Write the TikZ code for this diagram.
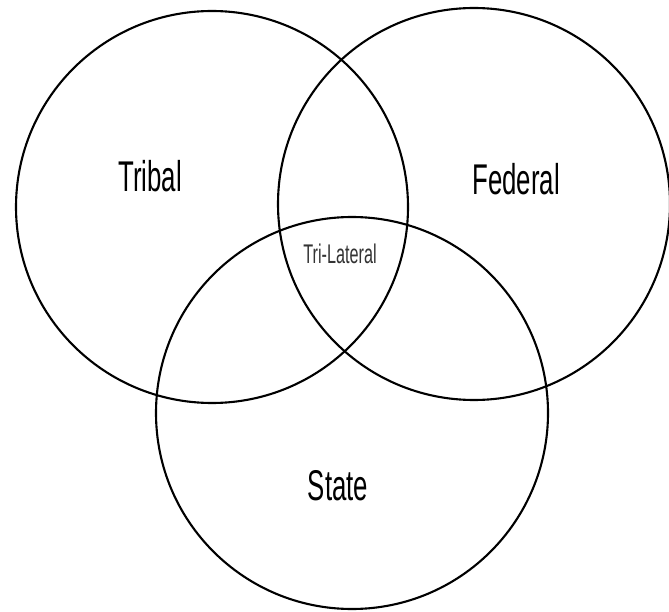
\documentclass[tikz,border=0pt]{standalone}
\usepackage{fontspec}
\newfontfamily\vennfont[FakeStretch=0.6]{Liberation Sans}
\usetikzlibrary{positioning}

\begin{document}
\begin{tikzpicture}[
    x=1pt, y=-1pt,
    set/.style={draw, circle, line width=2.1pt, inner sep=0pt, minimum size=392pt},
    lbl/.style={anchor=base, inner sep=0pt, font=\vennfont\fontsize{43}{43}\selectfont},
    core/.style={anchor=base, inner sep=0pt, text=black!80, font=\vennfont\fontsize{27}{27}\selectfont}
  ]
    \useasboundingbox (0,0) rectangle (669,612);
    \node[set](tribalset) at (212,207){};
    \node[set](federalset) at (474,204){};
    \node[set](stateset) at (352,413){};
    \node[lbl](tribal) at (150,192){Tribal};
    \node[lbl](federal) at (516,195){Federal};
    \node[lbl](state) at (338,500){State};
    \node[core](trilat) at (340,264){Tri-Lateral};
  \end{tikzpicture}
\end{document}
